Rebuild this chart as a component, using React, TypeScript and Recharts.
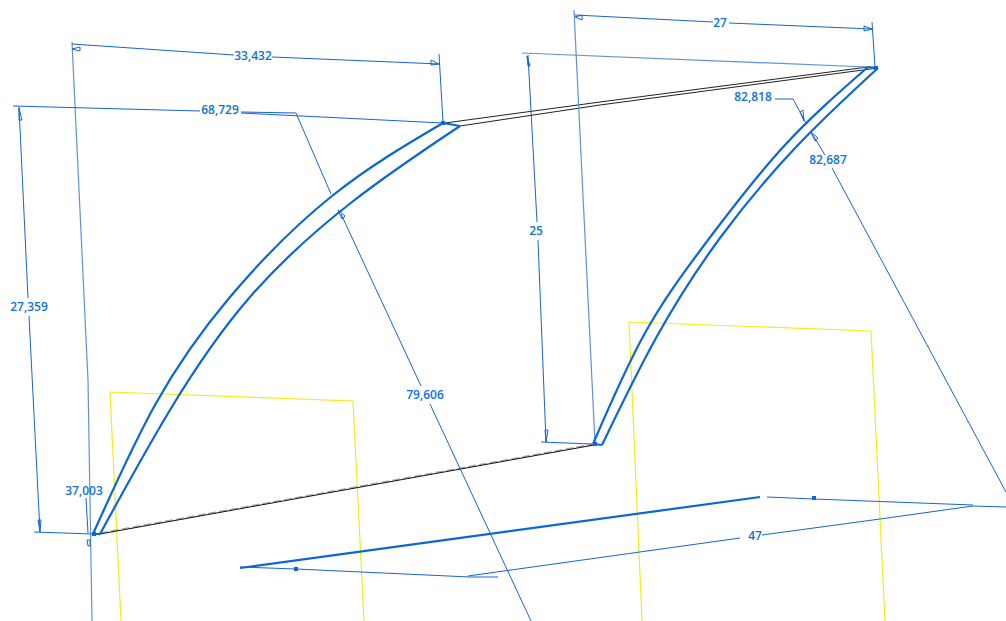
import React from "react";
import { ComposedChart, Line, Scatter, XAxis, YAxis, LabelList } from "recharts";

type P = { x: number; y: number };
const pts = (a: number[][]): P[] => a.map(([x, y]) => ({ x, y }));

// Profile arcs (thick blue)
const leftArcUpper = [[93,534],[155,405],[230,297],[332,196],[443,123]];
const leftArcLower = [[100,534],[170,410],[250,297],[352,202],[460,126]];
const leftArcCap = [[443,123],[460,126]];
const leftArcFoot = [[93,534],[100,534]];
const rightArcUpper = [[593,444],[645,333],[708,240],[785,145],[868,67]];
const rightArcLower = [[602,445],[656,338],[720,238],[797,146],[878,68]];
const rightArcCap = [[868,67],[878,68]];
const rightArcFoot = [[593,444],[602,445]];
const lowerThick = [[240,568],[760,497]];

// Connecting edges (black and grey)
const bottomEdge = [[100,534],[594,445]];
const bottomEdgeGrey = [[100,533],[594,444]];
const topEdgeA = [[445,123],[600,102],[868,67]];
const topEdgeB = [[460,126],[600,105],[878,68]];

// Yellow frames
const yellowLeft = [[121,621],[110,392],[353,401],[364,621]];
const yellowRight = [[642,621],[629,322],[871,331],[885,621]];

// Dimension lines, thin blue
const dim33a = [[72,44],[234,55]];
const dim33b = [[272,57],[440,64]];
const wit33L = [[72,42],[88,380],[92,621]];
const wit33R = [[439,54],[443,122]];
const dim27a = [[575,15],[713,22]];
const dim27b = [[729,23],[872,29]];
const wit27L = [[574,10],[595,443]];
const wit27R = [[872,22],[875,67]];
const dim25Top = [[522,53],[868,67]];
const dim25a = [[528,55],[537,222]];
const dim25b = [[538,240],[546,442]];
const dim25Foot = [[541,442],[592,444]];
const dim27359Top = [[13,106],[200,111]];
const dim27359Top2 = [[241,113],[443,123]];
const dim27359a = [[19,107],[28,298]];
const dim27359b = [[29,316],[40,532]];
const dim27359Foot = [[34,532],[93,534]];
const lead37 = [[86,498],[88,533]];
const lead79a = [[341,214],[421,386]];
const lead79b = [[430,404],[531,621]];
const lead826a = [[811,132],[825,155]];
const lead826b = [[832,168],[1006,492]];
const lead828 = [[775,99],[793,99],[806,123]];
const lead687 = [[241,112],[296,113],[331,194]];
const dim47a = [[468,576],[740,538]];
const dim47b = [[762,535],[880,519],[973,506],[1006,507]];
const lowerThinL = [[240,567],[296,569],[470,577],[498,577]];
const lowerThinR = [[767,497],[814,499],[973,505]];

// Small arrow heads
const arrowA = [[72,49],[80,47],[80,51],[72,49]];
const arrowB = [[439,64],[431,60],[431,65],[439,64]];
const arrowC = [[575,17],[582,15],[582,20],[575,17]];
const arrowD = [[872,29],[864,26],[864,31],[872,29]];
const arrowE = [[527,56],[528,66],[530,66],[527,56]];
const arrowF = [[546,442],[545,430],[548,430],[546,442]];
const arrowG = [[19,108],[19,120],[22,120],[19,108]];
const arrowH = [[40,532],[38,520],[41,520],[40,532]];
const arrowI = [[338,210],[342,219],[345,216],[338,210]];
const arrowJ = [[811,132],[815,141],[818,138],[811,132]];
const arrowK = [[804,121],[800,112],[803,110],[804,121]];
const tick37 = [[87,540],[88,546],[90,546],[90,540],[87,540]];

// Small square points
const nodes = [[94,534],[296,569],[595,444],[814,498],[876,68],[443,123]];

// Dimension texts
const labelText = ["33,432","27","68,729","82,818","82,687","25","27,359","79,606","37,003","47"];
const labelX = [253,720,220,753,828,536,29,425,84,755];
const labelY = [56,23,110,97,160,231,307,395,491,536];

const thick = "#0b66d6";
const thin = "#1664d2";
const pale = "#5f91e0";
const yellow = "#f2ec1a";

const smoothLines = [leftArcUpper,leftArcLower,rightArcUpper,rightArcLower];
const thickLines = [leftArcCap,leftArcFoot,rightArcCap,rightArcFoot,lowerThick];
const thinLines = [dim33a,dim33b,wit33R,dim27a,dim27b,wit27R,dim25a,dim25b,dim25Foot,dim27359a,dim27359b,dim27359Foot,lead37,lead79a,lead79b,lead826a,lead826b,lead828,lead687,dim47b,lowerThinL,lowerThinR,dim27359Top,dim27359Top2,dim47a,arrowA,arrowB,arrowC,arrowD,arrowE,arrowF,arrowG,arrowH,arrowI,arrowJ,arrowK,tick37];
const paleLines = [wit33L,wit27L,dim25Top];

const labels = labelText.map((text, i) => ({ x: labelX[i], y: labelY[i], text }));

export default function App() {
  let k = 0;
  const draw = (a: number[][], stroke: string, w: number, dash?: string, curve: any = "linear") => (
    <Line
      key={k++}
      data={pts(a)}
      dataKey="y"
      type={curve}
      stroke={stroke}
      strokeWidth={w}
      strokeDasharray={dash}
      dot={false}
      activeDot={false}
      legendType="none"
      isAnimationActive={false}
    />
  );
  return (
    <div style={{ position: "absolute", left: 0, top: 0, width: 1006, height: 621, background: "#fff" }}>
      <ComposedChart width={1006} height={621} margin={{ top: 0, right: 0, bottom: 0, left: 0 }}>
        <XAxis dataKey="x" type="number" domain={[0, 1006]} hide allowDataOverflow />
        <YAxis dataKey="y" type="number" domain={[0, 621]} reversed hide allowDataOverflow />
        {draw(yellowLeft, yellow, 1.2)}
        {draw(yellowRight, yellow, 1.2)}
        {draw(bottomEdgeGrey, "#a8a8a8", 1.4, "8 3")}
        {draw(bottomEdge, "#111", 1)}
        {draw(topEdgeA, "#222", 1)}
        {draw(topEdgeB, "#222", 1)}
        {paleLines.map((l) => draw(l, pale, 1.2))}
        {thinLines.map((l) => draw(l, thin, 1))}
        {smoothLines.map((l) => draw(l, thick, 2.2, undefined, "natural"))}
        {thickLines.map((l) => draw(l, thick, 2.2))}
        <Scatter
          data={pts(nodes)}
          dataKey="y"
          isAnimationActive={false}
          legendType="none"
          shape={(p: any) => <rect x={p.cx - 2} y={p.cy - 2} width={4} height={4} fill={thick} />}
        />
        <Scatter data={labels} dataKey="y" isAnimationActive={false} legendType="none" shape={() => <g />}>
          <LabelList
            dataKey="text"
            position="center"
            fill="#0f72dc"
            style={{ fontFamily: "Open Sans", fontSize: 12, fontWeight: 600 }}
          />
        </Scatter>
      </ComposedChart>
    </div>
  );
}
